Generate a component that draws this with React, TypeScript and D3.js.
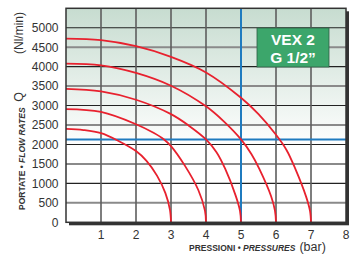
import React from 'react';
import * as d3 from 'd3';

// tick values
const pressureTicks = [1, 2, 3, 4, 5, 6, 7, 8];
const flowTicks = [0, 500, 1000, 1500, 2000, 2500, 3000, 3500, 4000, 4500, 5000];

// curves: pressure (bar) and flow (Nl/min)
const p3Bar = [0, 0.5, 1, 1.5, 2, 2.3, 2.6, 2.84, 2.97, 3];
const q3Bar = [2400, 2370, 2290, 2090, 1830, 1580, 1200, 750, 320, 0];
const p4Bar = [0, 1, 2, 2.5, 2.8, 3, 3.4, 3.78, 3.97, 4];
const q4Bar = [2910, 2835, 2520, 2300, 2130, 1960, 1450, 830, 300, 0];
const p5Bar = [0, 1, 2, 3, 3.5, 4, 4.3, 4.55, 4.85, 4.97, 5];
const q5Bar = [3430, 3365, 3150, 2780, 2490, 2130, 1800, 1370, 680, 300, 0];
const p6Bar = [0, 1, 2, 3, 4, 4.5, 5, 5.3, 5.52, 5.86, 5.97, 6];
const q6Bar = [4080, 4035, 3840, 3510, 2980, 2600, 2130, 1750, 1380, 670, 300, 0];
const p7Bar = [0, 1, 2, 3, 4, 5, 5.5, 6, 6.3, 6.55, 6.86, 6.97, 7];
const q7Bar = [4720, 4680, 4525, 4250, 3850, 3200, 2780, 2250, 1860, 1380, 660, 300, 0];

const curves = [
  [p3Bar, q3Bar],
  [p4Bar, q4Bar],
  [p5Bar, q5Bar],
  [p6Bar, q6Bar],
  [p7Bar, q7Bar],
];

// working point (blue cross)
const workPressure = 5;
const workFlow = 2130;

const font = 'Liberation Sans, Arial, sans-serif';

const App: React.FC = () => {
  const width = 358;
  const height = 255;

  const x = d3.scaleLinear().domain([0, 8]).range([66, 346]);
  const y = d3.scaleLinear().domain([0, 5500]).range([222.3, 8.3]);

  const x0 = x(0), x1 = x(8), yTop = y(5500), yBot = y(0);

  const line = d3.line<[number, number]>()
    .x(d => x(d[0]))
    .y(d => y(d[1]))
    .curve(d3.curveCatmullRom.alpha(0.5));

  return (
    <svg width={width} height={height} style={{ position: 'absolute', left: 0, top: 0 }}>
      <defs>
        <linearGradient id="bg" x1="0" y1="0" x2="0" y2="1">
          <stop offset="0" stopColor="#c7dcd0" />
          <stop offset="0.65" stopColor="#ffffff" />
          <stop offset="1" stopColor="#ffffff" />
        </linearGradient>
      </defs>
      <rect x={0} y={0} width={width} height={height} fill="#fff" />

      {/* shadow + plot background */}
      <rect x={x0 + 3} y={yTop + 3} width={x1 - x0} height={yBot - yTop} fill="#333" />
      <rect x={x0} y={yTop} width={x1 - x0} height={yBot - yTop} fill="url(#bg)" />

      {/* horizontal grid */}
      {flowTicks.filter(v => v > 0).map(v => (
        <line key={'h' + v} x1={x0} x2={x1} y1={y(v)} y2={y(v)}
          stroke={v % 1000 === 0 ? '#222' : '#8a8a8a'}
          strokeWidth={v % 1000 === 0 ? 1.1 : 2} />
      ))}
      {/* vertical grid */}
      {pressureTicks.filter(v => v < 8).map(v => (
        <line key={'v' + v} x1={x(v)} x2={x(v)} y1={yTop} y2={yBot}
          stroke="#5e5e5e" strokeWidth={1.6} />
      ))}

      {/* blue working lines */}
      <line x1={x0} x2={x1} y1={y(workFlow)} y2={y(workFlow)} stroke="#1f7bbf" strokeWidth={2} />
      <line x1={x(workPressure)} x2={x(workPressure)} y1={yTop} y2={yBot} stroke="#1f7bbf" strokeWidth={2} />

      {/* curves */}
      {curves.map(([ps, qs], i) => (
        <path key={i} d={line(ps.map((p, j) => [p, qs[j]] as [number, number])) || ''}
          fill="none" stroke="#e8212e" strokeWidth={1.8} />
      ))}

      {/* frame */}
      <rect x={x0} y={yTop} width={x1 - x0} height={yBot - yTop} fill="none" stroke="#333" strokeWidth={1.5} />

      {/* label box */}
      <rect x={257} y={28} width={72} height={39} fill="#3ca66b" stroke="#2f5e45" strokeWidth={0.8} />
      <text x={293} y={44.5} textAnchor="middle" fill="#fff" fontFamily={font} fontWeight="bold" fontSize={15.5}>VEX 2</text>
      <text x={293} y={62.5} textAnchor="middle" fill="#fff" fontFamily={font} fontWeight="bold" fontSize={15.5}>G 1/2”</text>

      {/* y tick labels */}
      {flowTicks.map(v => (
        <text key={'yl' + v} x={58.5} y={y(v)} dy="0.36em" textAnchor="end"
          fontFamily={font} fontSize={12} fill="#333">{v}</text>
      ))}
      {/* x tick labels */}
      {pressureTicks.map(v => (
        <text key={'xl' + v} x={x(v)} y={238.5} textAnchor="middle"
          fontFamily={font} fontSize={12} fill="#333">{v}</text>
      ))}

      {/* x title */}
      <text x={189} y={251} fontFamily={font} fill="#333">
        <tspan fontSize={8.5} fontWeight="bold">PRESSIONI • </tspan>
        <tspan fontSize={8.5} fontWeight="bold" fontStyle="italic">PRESSURES</tspan>
        <tspan fontSize={12.5} dx={4}>(bar)</tspan>
      </text>

      {/* y title */}
      <text transform="translate(25,210) rotate(-90)" fontFamily={font} fill="#333">
        <tspan fontSize={8.5} fontWeight="bold">PORTATE • </tspan>
        <tspan fontSize={8.5} fontWeight="bold" fontStyle="italic">FLOW RATES</tspan>
      </text>
      <text transform="translate(23,97) rotate(-90)" textAnchor="middle" fontFamily={font} fontSize={12.5} fill="#333">Q</text>
      <text transform="translate(23,33) rotate(-90)" textAnchor="middle" fontFamily={font} fontSize={12} fill="#333">(Nl/min)</text>
    </svg>
  );
};

export default App;
